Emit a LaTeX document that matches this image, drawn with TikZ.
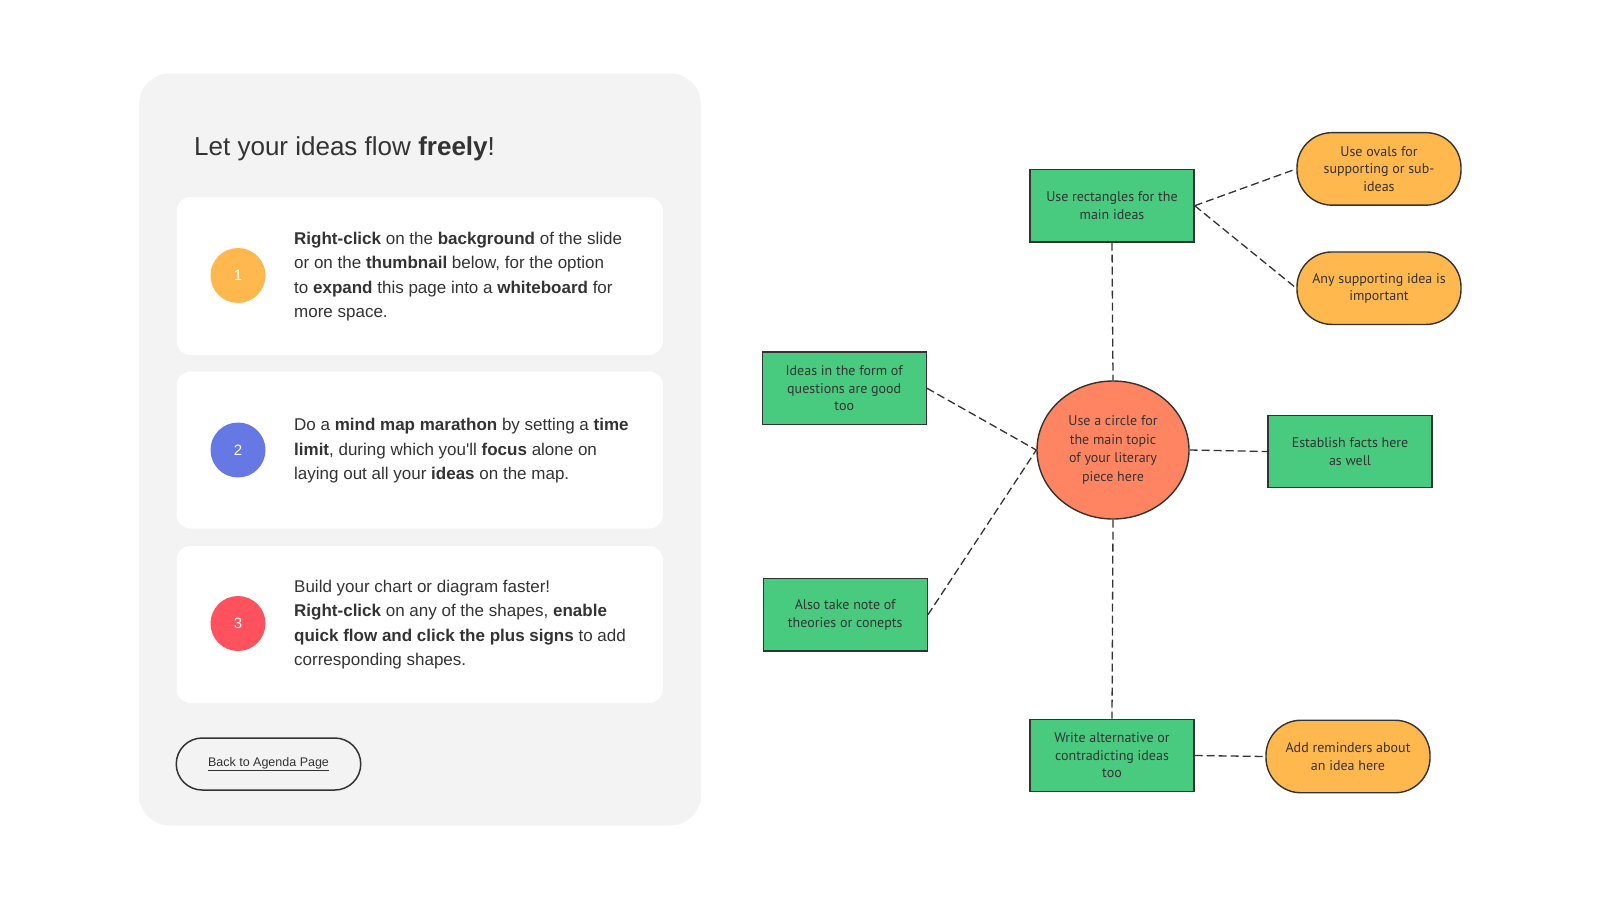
\documentclass[tikz,border=0pt]{standalone}
\usepackage{fontspec}
\setmainfont{Liberation Sans}
\newfontfamily\mapfont{PT Sans}
\usetikzlibrary{shapes.geometric}
\definecolor{panelgray}{HTML}{F3F3F3}
\definecolor{txt}{HTML}{333333}
\definecolor{mapgreen}{HTML}{48CB7E}
\definecolor{maporange}{HTML}{FFB84D}
\definecolor{mapcoral}{HTML}{FF8562}
\definecolor{numblue}{HTML}{6678E4}
\definecolor{numred}{HTML}{FF525E}
\tikzset{
  numcirc/.style={circle, minimum size=55, inner sep=0, text=white, font=\fontsize{15}{18}\selectfont},
  bodytext/.style={anchor=west, align=left, inner sep=0, text=txt, font=\fontsize{17}{24.5}\selectfont},
  card/.style={fill=white, rounded corners=14},
  mapbox/.style={draw=txt, line width=1.4, fill=mapgreen, minimum width=164, minimum height=72.5, inner sep=0, align=center, text=txt, font=\mapfont\fontsize{14}{17.5}\selectfont},
  mapoval/.style={draw=txt, line width=1.4, fill=maporange, rounded corners=35, minimum width=164, minimum height=72.5, inner sep=0, align=center, text=txt, font=\mapfont\fontsize{14}{17.5}\selectfont},
  mapcenter/.style={ellipse, draw=txt, line width=1.4, fill=mapcoral, minimum width=152, minimum height=138, inner sep=0, align=center, text=txt, font=\mapfont\fontsize{14}{18.4}\selectfont},
  link/.style={draw=txt, line width=1.3, dash pattern=on 8pt off 4pt},
}
\begin{document}
\begin{tikzpicture}[x=1pt,y=-1pt]
\useasboundingbox (0,0) rectangle (1600,900);
\fill[white] (0,0) rectangle (1600,900);
% left panel
\fill[panelgray, rounded corners=31] (139,73.5) rectangle (701,825.5);
\node[anchor=west, inner sep=0, text=txt, font=\fontsize{26}{30}\selectfont] (title) at (194,149) {Let your ideas flow \textbf{freely}!};
\fill[card] (176.5,197) rectangle (663,355);
\fill[card] (176.5,371.5) rectangle (663,528.5);
\fill[card] (176.5,546) rectangle (663,703);
\node[numcirc, fill=maporange] (n1) at (238,275.5) {1};
\node[numcirc, fill=numblue] (n2) at (238,450) {2};
\node[numcirc, fill=numred] (n3) at (238,623.5) {3};
\node[bodytext] (t1) at (294,276.5) {\textbf{Right-click} on the \textbf{background} of the slide\\or on the \textbf{thumbnail} below, for the option\\to \textbf{expand} this page into a \textbf{whiteboard} for\\more space.};
\node[bodytext] (t2) at (294,451) {Do a \textbf{mind map marathon} by setting a \textbf{time}\\\textbf{limit}, during which you\textquotesingle ll \textbf{focus} alone on\\laying out all your \textbf{ideas} on the map.};
\node[bodytext] (t3) at (294,624.5) {Build your chart or diagram faster!\\\textbf{Right-click} on any of the shapes, \textbf{enable}\\\textbf{quick flow and click the plus signs} to add\\corresponding shapes.};
\node[draw=txt, line width=1.5, rounded corners=26, minimum width=184.5, minimum height=52, inner sep=0, text=txt, font=\fontsize{12.5}{15}\selectfont] (back) at (268.5,764) {\underline{Back to Agenda Page}};
% mind map
\node[mapbox] (r1) at (1112,205.7) {Use rectangles for the\\main ideas};
\node[mapoval] (o1) at (1379,168.9) {Use ovals for\\supporting or sub-\\ideas};
\node[mapoval] (o2) at (1379,288.2) {Any supporting idea is\\important};
\node[mapbox] (r2) at (844.2,388.2) {Ideas in the form of\\questions are good\\too};
\node[mapcenter] (c) at (1113,450) {Use a circle for\\the main topic\\of your literary\\piece here};
\node[mapbox] (r3) at (1350,451.5) {Establish facts here\\as well};
\node[mapbox] (r4) at (845.2,614.8) {Also take note of\\theories or conepts};
\node[mapbox] (r5) at (1112,755.5) {Write alternative or\\contradicting ideas\\too};
\node[mapoval] (o3) at (1348,756.5) {Add reminders about\\an idea here};
\draw[link] (r1.east) -- (o1.west);
\draw[link] (r1.east) -- (o2.west);
\draw[link] (r1.south) -- (c.north);
\draw[link] (r2.east) -- (c.west);
\draw[link] (r4.east) -- (c.west);
\draw[link] (c.east) -- (r3.west);
\draw[link] (c.south) -- (r5.north);
\draw[link] (r5.east) -- (o3.west);
\end{tikzpicture}
\end{document}
